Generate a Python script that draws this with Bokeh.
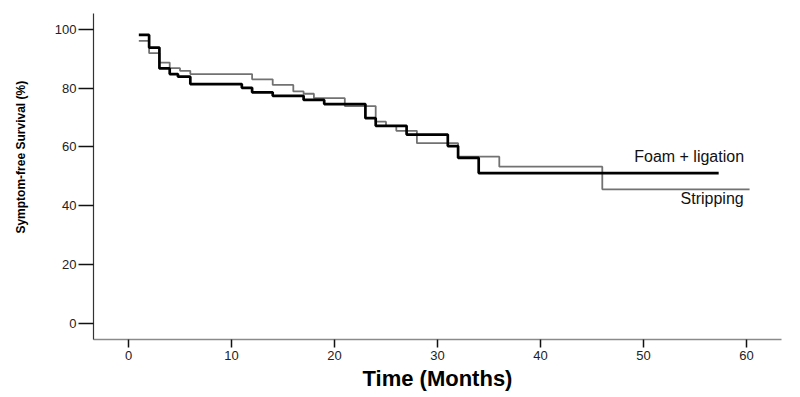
import math
from bokeh.plotting import figure
from bokeh.layouts import row
from bokeh.models import Range1d, FixedTicker, Label
from bokeh.embed import file_html
from bokeh.resources import INLINE

# --- data (time in months, survival in %) ---
foam_t = [1, 2, 3, 4, 4.8, 6, 11, 12, 14, 17, 19, 23, 24, 27, 31, 32, 34, 57.3]
foam_s = [98.1, 93.8, 86.7, 84.8, 83.9, 81.4, 80.1, 78.6, 77.4, 76.0, 74.6, 69.8, 67.2, 64.2, 60.3, 56.3, 51.1, 51.1]

strip_t = [1, 2, 3, 4, 5, 6, 12, 14, 16, 17, 18, 21, 24, 25, 26, 28, 32, 36, 46, 60.3]
strip_s = [96.1, 91.9, 88.7, 86.8, 85.9, 84.8, 83.0, 81.1, 78.9, 78.1, 76.6, 73.9, 68.6, 67.2, 65.5, 61.3, 56.7, 53.3, 45.6, 45.6]

x_ticks = [0, 10, 20, 30, 40, 50, 60]
y_ticks = [0, 20, 40, 60, 80, 100]

series_labels = ["Foam + ligation", "Stripping"]
x_title = "Time (Months)"
y_title = "Symptom-free Survival (%)"

FONT = "Liberation Sans"
TITLE_W = 34

# narrow strip on the left that carries the y-axis title
t = figure(width=TITLE_W, height=397, output_backend="svg", toolbar_location=None,
           x_range=Range1d(0, TITLE_W), y_range=Range1d(0, 397),
           min_border=0)
t.axis.visible = False
t.grid.visible = False
t.outline_line_color = None
t.add_layout(Label(x=20, y=397 - 175, text=y_title, angle=math.pi / 2,
                   text_font=FONT, text_font_size="12px", text_font_style="bold",
                   text_color="#000000", text_align="center", text_baseline="middle"))

p = figure(width=800 - TITLE_W, height=397, output_backend="svg", toolbar_location=None,
           x_range=Range1d(-3.4, 63.4), y_range=Range1d(-5.5, 105.4),
           min_border_left=93 - TITLE_W, min_border_right=19, min_border_top=13,
           min_border_bottom=58)
p.outline_line_color = None
p.grid.visible = False
p.background_fill_color = "white"

# axes
xa = p.xaxis[0]
xa.ticker = FixedTicker(ticks=x_ticks)
xa.axis_line_color = "#8a8a8a"
xa.axis_line_width = 1.5
xa.major_tick_line_color = "#111111"
xa.major_tick_line_width = 1.5
xa.major_tick_out = 8
xa.major_tick_in = 0
xa.minor_tick_line_color = None
xa.major_label_text_font = FONT
xa.major_label_text_font_size = "13px"
xa.major_label_text_color = "#222222"
xa.major_label_standoff = 3
xa.axis_label = x_title
xa.axis_label_text_font = FONT
xa.axis_label_text_font_size = "22px"
xa.axis_label_text_font_style = "bold"
xa.axis_label_text_color = "#000000"
xa.axis_label_standoff = 3

ya = p.yaxis[0]
ya.ticker = FixedTicker(ticks=y_ticks)
ya.axis_line_color = "#333333"
ya.axis_line_width = 1.2
ya.major_tick_line_color = "#111111"
ya.major_tick_line_width = 1.5
ya.major_tick_out = 15
ya.major_tick_in = 0
ya.minor_tick_line_color = None
ya.major_label_text_font = FONT
ya.major_label_text_font_size = "13px"
ya.major_label_text_color = "#222222"
ya.major_label_standoff = 2

# curves
p.step(strip_t, strip_s, mode="after", line_color="#727272", line_width=1.8)
p.step(foam_t, foam_s, mode="after", line_color="#000000", line_width=2.7)

# curve labels
p.add_layout(Label(x=49.1, y=56.7, text=series_labels[0], text_font=FONT,
                   text_font_size="16px", text_color="#111111",
                   text_align="left", text_baseline="middle"))
p.add_layout(Label(x=53.6, y=42.4, text=series_labels[1], text_font=FONT,
                   text_font_size="16px", text_color="#111111",
                   text_align="left", text_baseline="middle"))

layout = row(t, p)
open("out.html", "w").write(file_html(layout, INLINE))
